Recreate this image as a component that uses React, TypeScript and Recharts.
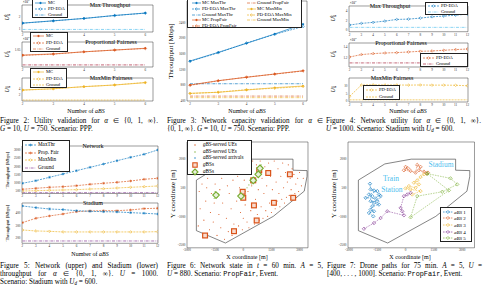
import React from 'react';
import { LineChart, Line, XAxis, YAxis, ReferenceArea, ScatterChart, Scatter } from 'recharts';

const FONT = '"Liberation Serif", "Times New Roman", serif';
const MONO = '"Liberation Mono", "DejaVu Sans Mono", monospace';
const BLUE = '#0072BD', ORANGE = '#D95319', YELLOW = '#EDB120', PURPLE = '#7E2F8E', GREEN = '#77AC30', CYAN = '#4DBEEE', DARKRED = '#A2142F';
const DASH = '2 1';
const DASHDOT = '3 1 0.6 1';

// ---------------- Figure 2: utility validation ----------------
const fig2Counts = [2, 3, 4, 5, 6];
const fig2MaxThrMC = [1.48, 1.66, 1.84, 2.08, 2.27];
const fig2MaxThrPD = [1.47, 1.65, 1.85, 2.07, 2.26];
const fig2MaxThrGround = [0.98, 0.98, 0.98, 0.98, 0.98];
const fig2PropMC = [1.033, 1.037, 1.044, 1.05, 1.056];
const fig2PropPD = [1.032, 1.036, 1.044, 1.05, 1.055];
const fig2PropGround = [1.0, 1.0, 1.0, 1.0, 1.0];
const fig2MinMC = [3.67, 4.1, 4.77, 5.33, 6.1];
const fig2MinPD = [3.6, 4.05, 4.8, 5.35, 6.2];
const fig2MinGround = [0.33, 0.33, 0.33, 0.33, 0.33];

// ---------------- Figure 3: network capacity ----------------
const fig3Counts = [2, 3, 4, 5, 6];
const fig3MCMaxThr = [1420, 1640, 1870, 2110, 2360];
const fig3PDMaxThr = [1410, 1630, 1880, 2100, 2300];
const fig3GroundMaxThr = [840, 840, 840, 840, 840];
const fig3MCPropFair = [808, 918, 1004, 1089, 1172];
const fig3PDPropFair = [800, 915, 1010, 1085, 1165];
const fig3GroundPropFair = [525, 525, 525, 525, 525];
const fig3MCMaxMin = [596, 622, 680, 740, 782];
const fig3PDMaxMin = [590, 625, 690, 725, 770];
const fig3GroundMaxMin = [485, 485, 485, 485, 485];

// ---------------- Figure 4: network utility (stadium) ----------------
const fig4Counts = [2, 3, 4, 5, 6, 7, 8, 9, 10, 11, 12];
const fig4MaxThrPD = [1.04, 1.38, 1.59, 1.86, 2.2, 2.27, 2.48, 2.75, 2.9, 3.1, 3.3];
const fig4MaxThrGround = [0.55, 0.55, 0.55, 0.55, 0.55, 0.55, 0.55, 0.55, 0.55, 0.55, 0.55];
const fig4PropPD = [1.211, 1.257, 1.275, 1.287, 1.294, 1.306, 1.319, 1.325, 1.338, 1.351, 1.362];
const fig4PropGround = [1.1, 1.1, 1.1, 1.1, 1.1, 1.1, 1.1, 1.1, 1.1, 1.1, 1.1];
const fig4MinPD = [3.1, 10.45, 10.6, 10.5, 10.5, 10.4, 10.5, 10.4, 10.4, 10.3, 10.0];
const fig4MinGround = [0.9, 0.9, 0.9, 0.9, 0.9, 0.9, 0.9, 0.9, 0.9, 0.9, 0.9];

// ---------------- Figure 5: network / stadium throughput ----------------
const fig5Counts = [2, 3, 4, 5, 6, 7, 8, 9, 10, 11, 12];
const fig5NetMaxThr = [982, 1140, 1345, 1545, 1745, 1950, 2150, 2350, 2555, 2740, 3000];
const fig5NetPropFair = [618, 678, 739, 776, 836, 921, 982, 1042, 1121, 1224, 1285];
const fig5NetMaxMin = [515, 533, 558, 576, 594, 636, 655, 697, 739, 776, 818];
const fig5NetGround = [412, 412, 412, 412, 412, 412, 412, 412, 412, 412, 412];
const fig5StadMaxThr = [460, 446, 435, 430, 421, 416, 413, 411, 405, 400, 394];
const fig5StadPropFair = [323, 359, 378, 394, 413, 419, 421, 421, 427, 438, 441];
const fig5StadMaxMin = [263, 255, 252, 247, 247, 247, 247, 247, 247, 247, 249];
const fig5StadGround = [173, 173, 173, 173, 173, 173, 173, 173, 173, 173, 173];

// ---------------- Figure 6: network state ----------------
const areaBoundary = [
  [-2500, 900], [-1100, 1750], [300, 2000], [2650, 2000], [2650, 1420], [3400, 1400], [3400, 1100],
  [3250, 320], [1600, -1000], [-950, -2400], [-2500, -1750], [-2500, 900],
];
const gbsServedUEs = [
  [-2400, -1500], [-2300, -600], [-2350, 300], [-2200, 700], [-2100, -1200], [-2000, -200], [-1950, 500],
  [-1900, 1000], [-1800, -1700], [-1750, -800], [-1700, 200], [-1650, 1200], [-1600, -1300], [-1550, -300],
  [-1500, 700], [-1400, -2000], [-1350, 1500], [-1300, -900], [-1250, 400], [-1200, -1600], [-1150, 1000],
  [-1100, -300], [-1000, -2200], [-950, 1600], [-900, -1100], [-850, 600], [-800, -1800], [-750, 200],
  [-700, 1300], [-650, -600], [-600, -2000], [-550, 900], [-500, -1400], [-450, 1800], [-400, -1900],
  [-350, -200], [-300, 1100], [-250, -1500], [-200, 500], [-150, -800], [-100, 1500], [-50, -1700],
  [0, -1100], [50, 900], [100, -400], [150, 1800], [200, -1300], [250, 300], [300, -1600], [350, 1400],
  [400, -700], [450, 600], [500, 1900], [600, -1400], [650, -100], [700, 1700], [750, -900], [800, 400],
  [850, -1200], [900, 1900], [950, -500], [1000, 1000], [1050, -1100], [1100, 200], [1150, 1600],
  [1200, -700], [1250, 600], [1300, -1000], [1350, 1800], [1400, -300], [1450, 1100], [1500, -800],
  [1550, 400], [1650, 1900], [1700, -600], [1750, 800], [1800, -200], [1850, 1500], [1900, 200],
  [1950, -500], [2000, 1100], [2050, -100], [2100, 1800], [2150, 500], [2200, -300], [2250, 1300],
  [2300, 0], [2350, 800], [2400, 1700], [2450, 100], [2500, 1000], [2550, 400], [2600, 1500],
  [2700, 1200], [2750, 200], [2800, 700], [2900, 1000], [2950, 300], [3000, 1300], [3100, 600], [3200, 1000],
];
const abaServedUEs = [
  [-1500, 300], [-1400, 0], [-1350, 200], [-1550, -50], [-200, 100], [-100, -100], [0, 200], [100, 300],
  [200, 500], [300, 650], [400, 800], [500, 1000], [600, 1050], [700, 1150], [750, 1300], [850, 1350],
  [900, 1600], [950, 1700], [800, 1450], [650, 950], [450, 700], [-50, 0], [100, 100],
];
const abaServedArrivals = [[850, 1500], [900, 1450], [820, 1550], [950, 1520], [880, 1400]];
const gbsPositions = [
  [-2037, -2005], [-495, -1779], [713, -1216], [569, -426], [1633, -289], [2660, -26], [0, -26],
  [-32, 289], [532, 889], [1330, 1274], [2484, 1205], [851, 1416],
];
const abaPositions = [[-1452, 116], [-122, 63], [532, 889], [798, 1205], [888, 1521]];

// ---------------- Figure 7: drone paths ----------------
const pathABS1 = [
  [-1887, 712], [-1852, 412], [-1676, 359], [-1499, 324], [-1940, 147], [-1764, 59], [-2117, -29],
  [-1588, -64], [-1411, 147], [-1323, 59], [-1499, -206], [-1852, -206], [-1676, -294], [-1411, -382],
  [-1764, -470], [-1852, -647], [-1676, -735], [-1940, -823], [-1711, -999],
];
const pathABS2 = [
  [0, 1594], [123, 1523], [-88, 1417], [265, 1382], [529, 1294], [617, 1700], [794, 1594], [706, 1417],
  [970, 1347], [1182, 1294], [1111, 1241],
];
const pathABS3 = [
  [970, 1206], [794, 1064], [617, 888], [441, 765], [706, 676], [529, 500], [176, 588], [0, 465],
  [265, 412], [794, 324], [353, 147],
];
const pathABS4 = [
  [265, 235], [88, 147], [-88, 59], [-265, -558], [-176, -735], [-88, -946], [-970, -735], [-1323, -1088],
  [-1676, -1352], [-2205, -1652],
];
const pathABS5 = [
  [1147, 1241], [2381, 994], [2734, 676], [1940, 288], [617, 59], [265, -1052], [2293, 359], [1147, 1241],
];

// ---------------- helpers ----------------
const buildRows = (xs: number[], cols: Record<string, number[]>) =>
  xs.map((x, i) => {
    const r: any = { x };
    Object.keys(cols).forEach((k) => (r[k] = cols[k][i]));
    return r;
  });
const toPts = (arr: number[][]) => arr.map(([x, y]) => ({ x, y }));
const dPath = (cx: number, cy: number, r: number) => `M${cx},${cy - r}L${cx + r},${cy}L${cx},${cy + r}L${cx - r},${cy}Z`;

function markerEl(kind: string, color: string, cx: number, cy: number, size: number, key?: any) {
  if (kind === 'circle') return <circle key={key} cx={cx} cy={cy} r={size} fill={color} stroke={color} strokeWidth={0.3} />;
  if (kind === 'diamond') return <path key={key} d={dPath(cx, cy, size * 1.35)} fill="none" stroke={color} strokeWidth={0.5} />;
  if (kind === 'star') {
    const s = size * 1.3, k = size * 0.92;
    return (
      <path key={key} d={`M${cx - s},${cy}L${cx + s},${cy}M${cx},${cy - s}L${cx},${cy + s}M${cx - k},${cy - k}L${cx + k},${cy + k}M${cx - k},${cy + k}L${cx + k},${cy - k}`} stroke={color} strokeWidth={0.45} fill="none" />
    );
  }
  return <g key={key} />;
}
const makeDot = (kind: string, color: string, size: number) => (p: any) => {
  if (p.cx == null || p.cy == null) return <g key={p.index} />;
  return markerEl(kind, color, p.cx, p.cy, size, p.index);
};

type S = { key: string; color: string; dash?: string; marker?: string; size?: number; width?: number };

function Panel(props: any) {
  const { left, top, w, h, xs, cols, xDomain, yDomain, xTicks, yTicks, yFmt, series } = props;
  const yW = 16, xH = 7, mt = 3, mr = 3;
  const data = buildRows(xs, cols);
  const tick = { fontSize: 3.3, fill: '#333', fontFamily: FONT };
  return (
    <div style={{ position: 'absolute', left: left - yW, top: top - mt }}>
      <LineChart width={yW + w + mr} height={mt + h + xH} data={data} margin={{ top: mt, right: mr, bottom: 0, left: 0 }}>
        <XAxis type="number" dataKey="x" domain={xDomain} ticks={xTicks} interval={0} height={xH} tickSize={0} tickMargin={1.5} axisLine={false} tick={tick} allowDataOverflow />
        <YAxis type="number" domain={yDomain} ticks={yTicks} interval={0} width={yW} tickSize={0} tickMargin={1.5} axisLine={false} tick={tick} tickFormatter={yFmt} allowDataOverflow />
        <ReferenceArea x1={xDomain[0]} x2={xDomain[1]} y1={yDomain[0]} y2={yDomain[1]} fill="none" fillOpacity={0} stroke="#222" strokeWidth={0.45} ifOverflow="visible" />
        {series.map((s: S) => (
          <Line key={s.key} type="linear" dataKey={s.key} stroke={s.color} strokeWidth={s.width ?? 0.65} strokeDasharray={s.dash}
            dot={s.marker ? makeDot(s.marker, s.color, s.size ?? 1.1) : false} activeDot={false} isAnimationActive={false} />
        ))}
      </LineChart>
    </div>
  );
}

function MapPanel(props: any) {
  const { left, top, w, h, xDomain, yDomain, children } = props;
  const yW = 16, xH = 6, mt = 3, mr = 3;
  const tick = { fontSize: 3.3, fill: '#333', fontFamily: FONT };
  return (
    <div style={{ position: 'absolute', left: left - yW, top: top - mt }}>
      <ScatterChart width={yW + w + mr} height={mt + h + xH} margin={{ top: mt, right: mr, bottom: 0, left: 0 }}>
        <XAxis type="number" dataKey="x" domain={xDomain} ticks={[-3000, -1500, 0, 1500, 3000]} interval={0} height={xH} tickSize={0} tickMargin={1} axisLine={false} tick={tick} allowDataOverflow />
        <YAxis type="number" dataKey="y" domain={yDomain} ticks={[-2500, -1000, 500, 2000]} interval={0} width={yW} tickSize={0} tickMargin={1.5} axisLine={false} tick={tick} allowDataOverflow />
        <ReferenceArea x1={xDomain[0]} x2={xDomain[1]} y1={yDomain[0]} y2={yDomain[1]} fill="none" fillOpacity={0} stroke="#222" strokeWidth={0.45} ifOverflow="visible" />
        {children}
      </ScatterChart>
    </div>
  );
}

function CText({ cx, cy, size, children, color, style }: any) {
  return (
    <div style={{ position: 'absolute', left: cx, top: cy, transform: 'translate(-50%,-50%)', fontSize: size, whiteSpace: 'nowrap', lineHeight: 1, color: color || '#000', ...style }}>
      {children}
    </div>
  );
}
function VText({ cx, cy, size, children }: any) {
  return (
    <div style={{ position: 'absolute', left: cx, top: cy, transform: 'translate(-50%,-50%) rotate(-90deg)', fontSize: size, whiteSpace: 'nowrap', lineHeight: 1 }}>
      {children}
    </div>
  );
}
function UOmega({ sup }: any) {
  return (
    <span>
      <i>U</i>
      <span style={{ display: 'inline-flex', flexDirection: 'column', fontSize: '0.6em', lineHeight: 0.95, verticalAlign: 'middle' }}>
        <span>{sup}</span>
        <span>Ω</span>
      </span>
    </span>
  );
}

type LRow = { label: any; color: string; dash?: string; marker?: string; size?: number };
function LegendBox({ left, top, width, height, rows, rowH, first, font, sampleW, textX, sampleX = 1.5 }: any) {
  return (
    <div style={{ position: 'absolute', left, top, width, height, border: '0.5px solid #222', background: '#fff', boxSizing: 'border-box' }}>
      {rows.map((r: LRow, i: number) => (
        <LegendRow key={i} r={r} y={first + i * rowH} font={font} sampleW={sampleW} textX={textX} sampleX={sampleX} />
      ))}
    </div>
  );
}
function LegendRow({ r, y, font, sampleW, textX, sampleX }: any) {
  return (
    <>
      <svg style={{ position: 'absolute', left: sampleX, top: y - 3, overflow: 'visible' }} width={sampleW} height={6}>
        {r.dash !== 'none' && <line x1={0} y1={3} x2={sampleW} y2={3} stroke={r.color} strokeWidth={0.65} strokeDasharray={r.dash} />}
        {r.marker && markerEl(r.marker, r.color, sampleW / 2, 3, r.size ?? 1.1)}
      </svg>
      <div style={{ position: 'absolute', left: textX, top: y, transform: 'translateY(-50%)', fontSize: font, lineHeight: 1, whiteSpace: 'nowrap' }}>{r.label}</div>
    </>
  );
}

function Caption({ left, top, width, lines }: any) {
  return (
    <div style={{ position: 'absolute', left, top, width, fontSize: 7.2, lineHeight: '8px' }}>
      {lines.map((ln: any, i: number) => {
        const last = i === lines.length - 1;
        return (
          <div key={i} style={{ textAlign: last ? 'left' : 'justify', textAlignLast: last ? 'left' : 'justify', whiteSpace: last ? 'nowrap' : 'normal', height: 8 }}>
            {ln}
          </div>
        );
      })}
    </div>
  );
}
const Sub = ({ children }: any) => <sub style={{ fontSize: '0.7em', lineHeight: 0, verticalAlign: '-0.25em' }}>{children}</sub>;
const It = ({ children }: any) => <i>{children}</i>;
const Mono = ({ children }: any) => <span style={{ fontFamily: MONO, fontSize: '0.95em' }}>{children}</span>;
const Title = ({ cx, cy, children }: any) => <CText cx={cx} cy={cy} size={6}>{children}</CText>;
const NumABS = ({ cx, cy }: any) => <CText cx={cx} cy={cy} size={6}>Number of <It>aBS</It></CText>;

const legMC = (color: string, groundDash: string) => [
  { label: 'MC', color, marker: 'circle', size: 0.9 },
  { label: 'PD-EOA', color, dash: DASH, marker: 'diamond', size: 1 },
  { label: 'Ground', color, dash: groundDash },
];

const fig2Series = (color: string, gColor: string, gDash: string): S[] => [
  { key: 'g', color: gColor, dash: gDash },
  { key: 'mc', color, marker: 'circle', size: 0.9 },
  { key: 'pd', color, dash: DASH, marker: 'diamond', size: 1 },
];

export default function App() {
  const x2 = [1.98, 6.25];
  const x4 = [1.95, 12.05];
  const x5 = [1.97, 12.03];
  const mapY = [-2650, 2900];
  const smallDot = (color: string, r: number) => (p: any) => <circle cx={p.cx} cy={p.cy} r={r} fill={color} />;
  const gbsShape = (p: any) => <rect x={p.cx - 2.4} y={p.cy - 2.4} width={4.8} height={4.8} fill="#f8dccf" stroke={ORANGE} strokeWidth={1.2} />;
  const abaShape = (p: any) => <path d={dPath(p.cx, p.cy, 3.3)} fill="#e8f1dc" stroke={GREEN} strokeWidth={1.1} />;
  const noShape = () => <g />;
  const pathDiamond = (color: string) => (p: any) => <path d={dPath(p.cx, p.cy, 1.7)} fill="none" stroke={color} strokeWidth={0.6} />;
  const drone = [
    { data: pathABS1, color: BLUE, label: 'aBS 1' },
    { data: pathABS2, color: ORANGE, label: 'aBS 2' },
    { data: pathABS3, color: YELLOW, label: 'aBS 3' },
    { data: pathABS4, color: PURPLE, label: 'aBS 4' },
    { data: pathABS5, color: GREEN, label: 'aBS 5' },
  ];

  return (
    <div style={{ position: 'absolute', left: 0, top: 0, width: 483, height: 286, overflow: 'hidden', background: '#fff', fontFamily: FONT, color: '#000' }}>
      {/* ===== Figure 2 ===== */}
      <Panel left={22} top={5} w={131} h={27} xs={fig2Counts} cols={{ mc: fig2MaxThrMC, pd: fig2MaxThrPD, g: fig2MaxThrGround }}
        xDomain={x2} yDomain={[0.78, 2.9]} xTicks={fig2Counts} yTicks={[1, 2]} series={fig2Series(BLUE, CYAN, DASHDOT)} />
      <Panel left={22} top={42} w={131} h={25} xs={fig2Counts} cols={{ mc: fig2PropMC, pd: fig2PropPD, g: fig2PropGround }}
        xDomain={x2} yDomain={[0.993, 1.077]} xTicks={fig2Counts} yTicks={[1.05]} series={fig2Series(ORANGE, DARKRED, DASHDOT)} />
      <Panel left={22} top={78} w={131} h={23} xs={fig2Counts} cols={{ mc: fig2MinMC, pd: fig2MinPD, g: fig2MinGround }}
        xDomain={x2} yDomain={[0, 7.67]} xTicks={fig2Counts} yTicks={[2, 4]} series={fig2Series(YELLOW, YELLOW, DASH)} />
      <Title cx={110} cy={5}>Max Throughput</Title>
      <Title cx={111} cy={42}>Proportional Fairness</Title>
      <Title cx={111} cy={78}>MaxMin Fairness</Title>
      <CText cx={26} cy={2} size={3.5}>×10<sup style={{ fontSize: '0.7em' }}>6</sup></CText>
      <CText cx={26} cy={39} size={3.5}>×10<sup style={{ fontSize: '0.7em' }}>5</sup></CText>
      <LegendBox left={32} top={-1.5} width={36} height={19.5} rows={legMC(BLUE, DASHDOT)} rowH={6.3} first={3.3} font={4.6} sampleW={11} textX={15} />
      <LegendBox left={30} top={31.5} width={38} height={20.5} rows={legMC(ORANGE, DASHDOT)} rowH={6.6} first={3.4} font={4.6} sampleW={11} textX={15} />
      <LegendBox left={30} top={67.5} width={37} height={20.5} rows={legMC(YELLOW, DASH)} rowH={6.6} first={3.4} font={4.6} sampleW={11} textX={15} />
      <VText cx={8} cy={17} size={5.5}><UOmega sup="0" /></VText>
      <VText cx={8} cy={54} size={5.5}><UOmega sup="1" /></VText>
      <VText cx={8} cy={89} size={5.5}><UOmega sup="∞" /></VText>
      <NumABS cx={86} cy={111} />
      <Caption left={0} top={117} width={158} lines={[
        <>Figure 2: Utility validation for <It>α</It> ∈ {'{'}0, 1, ∞{'}'}.</>,
        <><It>G</It> = 10, <It>U</It> = 750. Scenario: PPP.</>,
      ]} />

      {/* ===== Figure 3 ===== */}
      <Panel left={187} top={1} w={120} h={100} xs={fig3Counts}
        cols={{ mct: fig3MCMaxThr, pdt: fig3PDMaxThr, gt: fig3GroundMaxThr, mcp: fig3MCPropFair, pdp: fig3PDPropFair, gp: fig3GroundPropFair, mcm: fig3MCMaxMin, pdm: fig3PDMaxMin, gm: fig3GroundMaxMin }}
        xDomain={[1.894, 6.14]} yDomain={[400, 2950]} xTicks={fig3Counts} yTicks={[400, 800, 1200, 1600, 2000, 2400]}
        series={[
          { key: 'gt', color: BLUE, dash: DASHDOT },
          { key: 'gp', color: ORANGE, dash: DASHDOT },
          { key: 'gm', color: YELLOW, dash: DASHDOT },
          { key: 'mct', color: BLUE, marker: 'circle', size: 0.9 },
          { key: 'pdt', color: BLUE, dash: DASH, marker: 'diamond', size: 1 },
          { key: 'mcp', color: ORANGE, marker: 'circle', size: 0.9 },
          { key: 'pdp', color: ORANGE, dash: DASH, marker: 'diamond', size: 1 },
          { key: 'mcm', color: YELLOW, marker: 'circle', size: 0.9 },
          { key: 'pdm', color: YELLOW, dash: DASH, marker: 'diamond', size: 1 },
        ]} />
      <div style={{ position: 'absolute', left: 187, top: -1, width: 115, height: 29, border: '0.5px solid #222', background: '#fff', boxSizing: 'border-box' }}>
        {[
          { label: 'MC MaxThr', color: BLUE, marker: 'circle', size: 0.9 },
          { label: 'PD-EOA MaxThr', color: BLUE, dash: DASH, marker: 'diamond', size: 1 },
          { label: 'Ground MaxThr', color: BLUE, dash: DASHDOT },
          { label: 'MC PropFair', color: ORANGE, marker: 'circle', size: 0.9 },
          { label: 'PD-EOA PropFair', color: ORANGE, dash: DASH, marker: 'diamond', size: 1 },
        ].map((r, i) => <LegendRow key={'a' + i} r={r} y={2.9 + i * 5.8} font={4.7} sampleW={9} textX={14} sampleX={3.5} />)}
        {[
          { label: 'Ground PropFair', color: ORANGE, dash: DASHDOT },
          { label: 'MC MaxMin', color: YELLOW, marker: 'circle', size: 0.9 },
          { label: 'PD-EOA MaxMin', color: YELLOW, dash: DASH, marker: 'diamond', size: 1 },
          { label: 'Ground MaxMin', color: YELLOW, dash: DASHDOT },
        ].map((r, i) => <LegendRow key={'b' + i} r={r} y={2.9 + i * 5.8} font={4.7} sampleW={9} textX={69} sampleX={58.5} />)}
      </div>
      <VText cx={171} cy={51} size={7}>Throughput [Mbps]</VText>
      <NumABS cx={247} cy={111} />
      <Caption left={167} top={117} width={156} lines={[
        <>Figure 3: Network capacity validation for <It>α</It> ∈</>,
        <>{'{'}0, 1, ∞{'}'}. <It>G</It> = 10, <It>U</It> = 750. Scenario: PPP.</>,
      ]} />

      {/* ===== Figure 4 ===== */}
      <Panel left={349} top={6} w={119} h={25.7} xs={fig4Counts} cols={{ pd: fig4MaxThrPD, g: fig4MaxThrGround }}
        xDomain={x4} yDomain={[-0.35, 5]} xTicks={fig4Counts} yTicks={[0, 2, 4]}
        series={[{ key: 'g', color: CYAN, dash: DASHDOT }, { key: 'pd', color: BLUE, dash: DASH, marker: 'diamond', size: 1 }]} />
      <Panel left={349} top={42.7} w={119} h={24} xs={fig4Counts} cols={{ pd: fig4PropPD, g: fig4PropGround }}
        xDomain={x4} yDomain={[1.023, 1.475]} xTicks={fig4Counts} yTicks={[1.2, 1.4]}
        series={[{ key: 'g', color: DARKRED, dash: DASHDOT }, { key: 'pd', color: ORANGE, dash: DASH, marker: 'diamond', size: 1 }]} />
      <Panel left={349} top={78.3} w={119} h={24} xs={fig4Counts} cols={{ pd: fig4MinPD, g: fig4MinGround }}
        xDomain={x4} yDomain={[-0.5, 15]} xTicks={fig4Counts} yTicks={[0, 5, 10]}
        series={[{ key: 'g', color: YELLOW, dash: DASH }, { key: 'pd', color: YELLOW, dash: DASH, marker: 'diamond', size: 1 }]} />
      <Title cx={390} cy={6}>Max Throughput</Title>
      <Title cx={401} cy={42.7}>Proportional Fairness</Title>
      <Title cx={392} cy={78.3}>MaxMin Fairness</Title>
      <CText cx={353} cy={3} size={3.5}>×10<sup style={{ fontSize: '0.7em' }}>6</sup></CText>
      <CText cx={353} cy={40} size={3.5}>×10<sup style={{ fontSize: '0.7em' }}>5</sup></CText>
      <LegendBox left={425} top={1.5} width={43} height={13.5} rows={[
        { label: 'PD-EOA', color: BLUE, dash: DASH, marker: 'diamond', size: 1 },
        { label: 'Ground', color: CYAN, dash: DASHDOT },
      ]} rowH={6.4} first={3.5} font={4.6} sampleW={11} textX={15} />
      <LegendBox left={420} top={53} width={48} height={14} rows={[
        { label: 'PD-EOA', color: ORANGE, dash: DASH, marker: 'diamond', size: 1 },
        { label: 'Ground', color: DARKRED, dash: DASHDOT },
      ]} rowH={6.6} first={3.6} font={4.6} sampleW={11} textX={15} />
      <LegendBox left={363} top={85} width={37} height={15} rows={[
        { label: 'PD-EOA', color: YELLOW, dash: DASH, marker: 'diamond', size: 1 },
        { label: 'Ground', color: YELLOW, dash: DASH },
      ]} rowH={7} first={3.8} font={4.6} sampleW={11} textX={15} />
      <VText cx={334} cy={18} size={5.5}><UOmega sup="0" /></VText>
      <VText cx={334} cy={54} size={5.5}><UOmega sup="1" /></VText>
      <VText cx={334} cy={89} size={5.5}><UOmega sup="∞" /></VText>
      <NumABS cx={408} cy={111} />
      <Caption left={326} top={117} width={155} lines={[
        <>Figure 4: Network utility for <It>α</It> ∈ {'{'}0, 1, ∞{'}'}.</>,
        <><It>U</It> = 1000. Scenario: Stadium with <It>U</It><Sub><It>d</It></Sub> = 600.</>,
      ]} />

      {/* ===== Figure 5 ===== */}
      <Panel left={22} top={146} w={136} h={47.5} xs={fig5Counts}
        cols={{ t: fig5NetMaxThr, p: fig5NetPropFair, m: fig5NetMaxMin, g: fig5NetGround }}
        xDomain={x5} yDomain={[363, 3242]} xTicks={fig5Counts} yTicks={[500, 1000, 1500, 2000, 2500, 3000]}
        series={[
          { key: 'g', color: PURPLE, dash: DASHDOT },
          { key: 'm', color: YELLOW, dash: DASH, marker: 'diamond', size: 1 },
          { key: 'p', color: ORANGE, dash: DASH, marker: 'star', size: 1.1 },
          { key: 't', color: BLUE, dash: DASH, marker: 'star', size: 1.1 },
        ]} />
      <Panel left={22} top={203} w={136} h={40.3} xs={fig5Counts}
        cols={{ t: fig5StadMaxThr, p: fig5StadPropFair, m: fig5StadMaxMin, g: fig5StadGround }}
        xDomain={x5} yDomain={[154, 484]} xTicks={fig5Counts} yTicks={[200, 300, 400]}
        series={[
          { key: 'g', color: PURPLE, dash: DASHDOT },
          { key: 'm', color: YELLOW, dash: DASH, marker: 'diamond', size: 1 },
          { key: 'p', color: ORANGE, dash: DASH, marker: 'star', size: 1.1 },
          { key: 't', color: BLUE, dash: DASH, marker: 'star', size: 1.1 },
        ]} />
      <Title cx={93} cy={146}>Network</Title>
      <Title cx={93} cy={203}>Stadium</Title>
      <LegendBox left={22} top={140} width={48} height={31.5} rows={[
        { label: 'MaxThr', color: BLUE, dash: DASH, marker: 'star', size: 1.1 },
        { label: 'Prop. Fair', color: ORANGE, dash: DASH, marker: 'star', size: 1.1 },
        { label: 'MaxMin', color: YELLOW, dash: DASH, marker: 'diamond', size: 1 },
        { label: 'Ground', color: PURPLE, dash: DASHDOT },
      ]} rowH={7.7} first={3.9} font={5.2} sampleW={11} textX={15} />
      <VText cx={8} cy={170} size={4.6}>Throughput [Mbps]</VText>
      <VText cx={8} cy={223} size={4.6}>Throughput [Mbps]</VText>
      <NumABS cx={90} cy={254} />
      <Caption left={0} top={262} width={158} lines={[
        <>Figure 5: Network (upper) and Stadium (lower)</>,
        <>throughput for <It>α</It> ∈ {'{'}0, 1, ∞{'}'}. <It>U</It> = 1000.</>,
        <>Scenario: Stadium with <It>U</It><Sub><It>d</It></Sub> = 600.</>,
      ]} />

      {/* ===== Figure 6 ===== */}
      <MapPanel left={187} top={141.5} w={121} h={105.8} xDomain={[-3000, 3450]} yDomain={mapY}>
        <Scatter data={toPts(areaBoundary)} line={{ stroke: '#333', strokeWidth: 0.6 }} shape={noShape} isAnimationActive={false} />
        <Scatter data={toPts(gbsServedUEs)} shape={smallDot(ORANGE, 0.55)} isAnimationActive={false} />
        <Scatter data={toPts(abaServedUEs)} shape={smallDot(GREEN, 0.55)} isAnimationActive={false} />
        <Scatter data={toPts(abaServedArrivals)} shape={smallDot(BLUE, 0.6)} isAnimationActive={false} />
        <Scatter data={toPts(gbsPositions)} shape={gbsShape} isAnimationActive={false} />
        <Scatter data={toPts(abaPositions)} shape={abaShape} isAnimationActive={false} />
      </MapPanel>
      <div style={{ position: 'absolute', left: 187, top: 140, width: 65, height: 35, border: '0.5px solid #222', background: '#fff', boxSizing: 'border-box' }}>
        {[
          { label: <><It>g</It><It>BS</It>-served UEs</>, kind: 'dot', color: ORANGE },
          { label: <><It>aBS</It>-served UEs</>, kind: 'dot', color: GREEN },
          { label: <><It>aBS</It>-served arrivals</>, kind: 'dot', color: BLUE },
          { label: <><It>g</It>BSs</>, kind: 'sq', color: ORANGE },
          { label: <><It>a</It>BSs</>, kind: 'dm', color: GREEN },
        ].map((r, i) => {
          const y = 3.8 + i * 6.8;
          return (
            <React.Fragment key={i}>
              <svg style={{ position: 'absolute', left: 3, top: y - 4, overflow: 'visible' }} width={8} height={8}>
                {r.kind === 'dot' && <circle cx={4} cy={4} r={0.7} fill={r.color} />}
                {r.kind === 'sq' && <rect x={1.8} y={1.8} width={4.4} height={4.4} fill="#f8dccf" stroke={ORANGE} strokeWidth={1.1} />}
                {r.kind === 'dm' && <path d={dPath(4, 4, 3)} fill="#e8f1dc" stroke={GREEN} strokeWidth={1.1} />}
              </svg>
              <div style={{ position: 'absolute', left: 15, top: y, transform: 'translateY(-50%)', fontSize: 5.2, lineHeight: 1, whiteSpace: 'nowrap' }}>{r.label}</div>
            </React.Fragment>
          );
        })}
      </div>
      <VText cx={173} cy={194} size={7}>Y coordinate [m]</VText>
      <CText cx={247} cy={256.5} size={6}>X coordinate [m]</CText>
      <Caption left={167} top={262} width={156} lines={[
        <>Figure 6: Network state in <It>t</It> = 60 min. <It>A</It> = 5,</>,
        <><It>U</It> = 880. Scenario: <Mono>PropFair</Mono>, Event.</>,
      ]} />

      {/* ===== Figure 7 ===== */}
      <MapPanel left={347.5} top={141.5} w={126.5} h={105.8} xDomain={[-3050, 3650]} yDomain={mapY}>
        <Scatter data={toPts(areaBoundary)} line={{ stroke: '#333', strokeWidth: 0.6 }} shape={noShape} isAnimationActive={false} />
        {drone.map((d) => (
          <Scatter key={d.label} data={toPts(d.data)} line={{ stroke: d.color, strokeWidth: 0.5, strokeDasharray: '1.6 1' }} shape={pathDiamond(d.color)} isAnimationActive={false} />
        ))}
      </MapPanel>
      <CText cx={441} cy={165} size={7.5} color={CYAN}>Stadium</CText>
      <CText cx={391} cy={179} size={7.5} color={CYAN}>Train</CText>
      <CText cx={392} cy={189.5} size={7.5} color={CYAN}>Station</CText>
      <div style={{ position: 'absolute', left: 440, top: 206.5, width: 32, height: 35.5, border: '0.5px solid #222', background: '#fff', boxSizing: 'border-box' }}>
        {drone.map((d, i) => (
          <LegendRow key={i} r={{ label: <><It>aBS</It> {i + 1}</>, color: d.color, dash: '1.6 1', marker: 'diamond', size: 1.2 }} y={4 + i * 6.7} font={5} sampleW={10} textX={13} sampleX={1.5} />
        ))}
      </div>
      <VText cx={334} cy={194} size={7}>Y coordinate [m]</VText>
      <CText cx={410} cy={256.5} size={6}>X coordinate [m]</CText>
      <Caption left={327} top={262} width={155} lines={[
        <>Figure 7: Drone paths for 75 min. <It>A</It> = 5, <It>U</It> =</>,
        <>[400, . . . , 1000]. Scenario: <Mono>PropFair</Mono>, Event.</>,
      ]} />
    </div>
  );
}
